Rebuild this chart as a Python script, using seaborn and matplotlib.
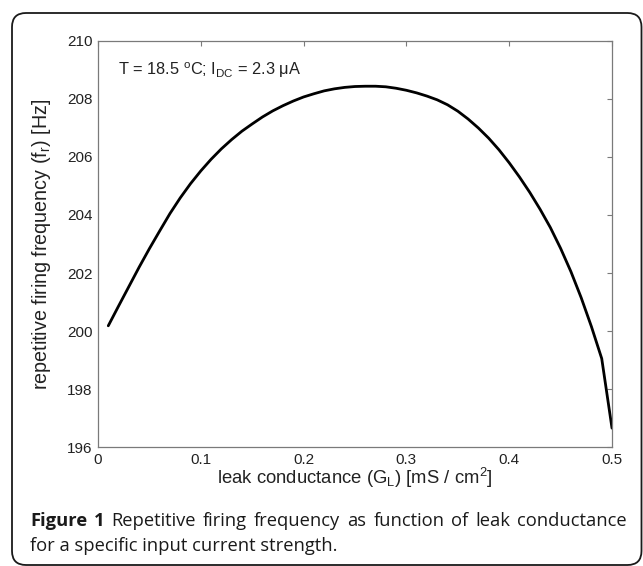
import numpy as np
import pandas as pd
import seaborn as sns
import matplotlib.pyplot as plt
from matplotlib.patches import FancyBboxPatch
from matplotlib.transforms import IdentityTransform

leak_conductance = [0.01, 0.02, 0.03, 0.04, 0.05, 0.06, 0.07, 0.08, 0.09, 0.10,
                    0.11, 0.12, 0.13, 0.14, 0.15, 0.16, 0.17, 0.18, 0.19, 0.20,
                    0.21, 0.22, 0.23, 0.24, 0.25, 0.26, 0.27, 0.28, 0.29, 0.30,
                    0.31, 0.32, 0.33, 0.34, 0.35, 0.36, 0.37, 0.38, 0.39, 0.40,
                    0.41, 0.42, 0.43, 0.44, 0.45, 0.46, 0.47, 0.48, 0.49, 0.50]
firing_freq = [200.18, 200.86, 201.53, 202.20, 202.84, 203.45, 204.05, 204.59, 205.08, 205.52,
               205.92, 206.28, 206.60, 206.89, 207.14, 207.38, 207.59, 207.77, 207.93, 208.07,
               208.18, 208.28, 208.35, 208.40, 208.43, 208.44, 208.44, 208.42, 208.37, 208.30,
               208.21, 208.10, 207.97, 207.80, 207.58, 207.31, 207.00, 206.65, 206.25, 205.80,
               205.31, 204.78, 204.20, 203.57, 202.85, 202.05, 201.15, 200.15, 199.05, 196.65]

x_ticks = [0, 0.1, 0.2, 0.3, 0.4, 0.5]
x_ticklabels = ["0", "0.1", "0.2", "0.3", "0.4", "0.5"]
y_ticks = [196, 198, 200, 202, 204, 206, 208, 210]

caption_line1 = "Repetitive firing frequency as function of leak conductance"
caption_line2 = "for a specific input current strength."

df = pd.DataFrame({"G_L": leak_conductance, "f_r": firing_freq})

sns.set_style("white")
plt.rcParams['font.family'] = ['Liberation Sans', 'DejaVu Sans']
plt.rcParams['mathtext.default'] = 'regular'

fig = plt.figure(figsize=(6.43, 5.66), dpi=100)
ax = fig.add_axes([0.1524, 0.2102, 0.7994, 0.7174])

sns.lineplot(data=df, x="G_L", y="f_r", ax=ax, color="black", linewidth=2.0,
             sort=False, estimator=None)

ax.set_xlim(0, 0.5)
ax.set_ylim(196, 210)
ax.set_xticks(x_ticks)
ax.set_xticklabels(x_ticklabels)
ax.set_yticks(y_ticks)

# matlab-like box with inward ticks on all sides
for side in ax.spines.values():
    side.set_visible(True)
    side.set_color("#7a7a7a")
    side.set_linewidth(0.9)
ax.tick_params(direction="in", length=3.5, width=0.8, color="#7a7a7a",
               top=True, right=True, labelsize=11, labelcolor="#222222", pad=4)

ax.set_xlabel("leak conductance (G$_L$) [mS / cm$^2$]", fontsize=13.3, color="#222222")
ax.set_ylabel("repetitive firing frequency (f$_r$) [Hz]", fontsize=14.2, color="#222222")
ax.xaxis.set_label_coords(0.5, -0.047)
ax.yaxis.set_label_coords(-0.0875, 0.5)

ax.text(0.039, 0.916, "T = 18.5 $^o$C; I$_{DC}$ = 2.3 \u03bcA", transform=ax.transAxes,
        fontsize=11.8, va="baseline", ha="left", color="#222222")

# rounded frame around figure + caption
frame = FancyBboxPatch((12, 1), 629.5, 552, boxstyle="round,pad=0,rounding_size=14",
                       transform=IdentityTransform(), fill=False,
                       edgecolor="#1a1a1a", linewidth=1.3)
fig.patches.append(frame)

# caption, first line justified between x=30 and x=627
cap_font = ['Open Sans', 'DejaVu Sans']
cap_size = 13.2
renderer = fig.canvas.get_renderer()
words = [("Figure", "bold"), ("1", "bold")] + [(w, "normal") for w in caption_line1.split()]
texts = []
for w, wt in words:
    t = fig.text(0, 40 / 566, w, fontsize=cap_size, fontweight=wt, family=cap_font,
                 va="baseline", ha="left", color="#1a1a1a")
    texts.append(t)
widths = [t.get_window_extent(renderer).width for t in texts]
x_start, x_end = 30, 627
gap = (x_end - x_start - sum(widths)) / (len(texts) - 1)
xpos = x_start
for t, wd in zip(texts, widths):
    t.set_x(xpos / 643)
    xpos += wd + gap

fig.text(30 / 643, 15 / 566, caption_line2, fontsize=cap_size, family=cap_font,
         va="baseline", ha="left", color="#1a1a1a")

plt.savefig("out.png", dpi=100)
